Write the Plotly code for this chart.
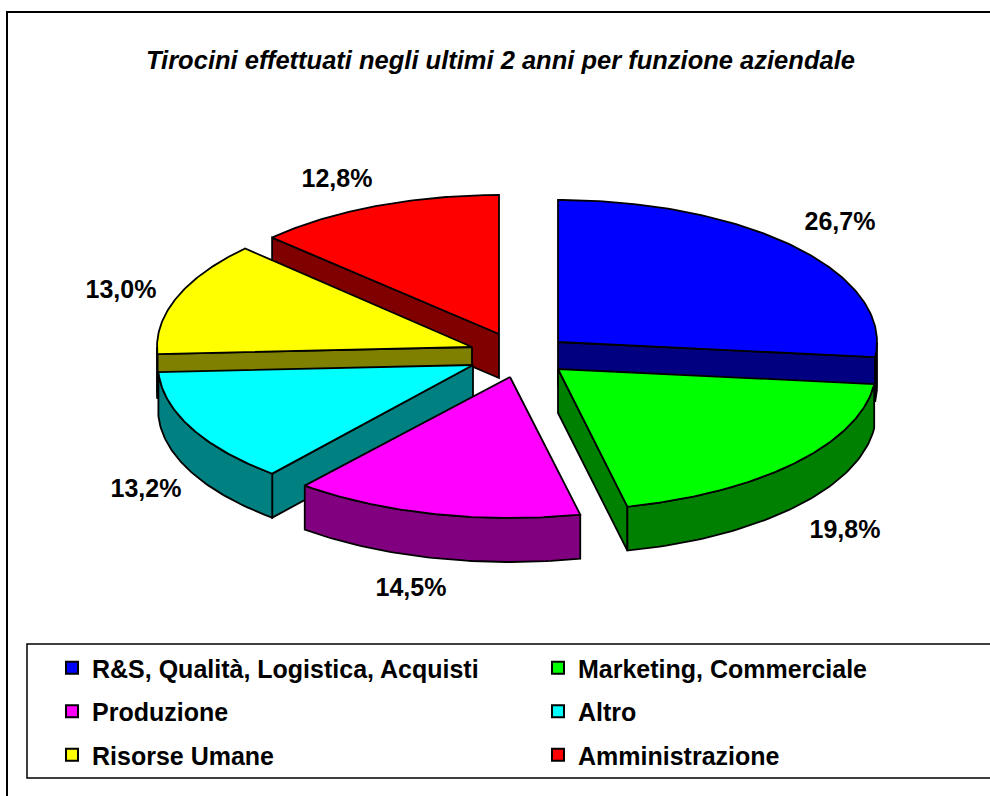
import numpy as np
import plotly.graph_objects as go

categories = ["R&S, Qualità, Logistica, Acquisti", "Marketing, Commerciale", "Produzione",
              "Altro", "Risorse Umane", "Amministrazione"]
shares = [26.7, 19.8, 14.5, 13.2, 13.0, 12.8]
top_colors = ["#0000FF", "#00FF00", "#FF00FF", "#00FFFF", "#FFFF00", "#FF0000"]
side_colors = ["#000080", "#008000", "#800080", "#008080", "#808000", "#800000"]
title_text = "Tirocini effettuati negli ultimi 2 anni per funzione aziendale"

# drawing geometry of the exploded 3D pie (paper pixels)
apex_x = [558, 558, 510, 473, 472, 499]
apex_y = [342, 369, 377, 365, 347, 334]
semi_a = [319, 318, 322, 315, 315, 315]
semi_b = [142, 141, 141, 141, 142, 139]
label_x = [840, 845, 411, 146, 121, 337]
label_y = [224, 532, 590, 491, 292, 181]
depth = 44
draw_order = [5, 0, 4, 3, 1, 2]
W, H = 990, 796
FONT = "Liberation Sans, Arial, sans-serif"

edges = np.concatenate([[0], np.cumsum(shares)]) / np.sum(shares) * 2 * np.pi


def rim(i, t):
    return apex_x[i] + semi_a[i] * np.sin(t), apex_y[i] - semi_b[i] * np.cos(t)


def poly(xs, ys, color):
    return go.Scatter(x=list(xs) + [xs[0]], y=list(ys) + [ys[0]], mode="lines", fill="toself",
                      fillcolor=color, line=dict(color="black", width=1.8), hoverinfo="skip",
                      showlegend=False)


fig = go.Figure()
for i in draw_order:
    t0, t1 = edges[i], edges[i + 1]
    ax, ay = apex_x[i], apex_y[i]
    # radial faces turned towards the viewer
    for t, visible in ((t0, np.sin(t0) < -1e-6), (t1, np.sin(t1) > 1e-6)):
        if visible:
            ex, ey = rim(i, t)
            fig.add_trace(poly([ax, ex, ex, ax], [ay, ey, ey + depth, ay + depth], side_colors[i]))
    # front rim
    lo, hi = max(t0, np.pi / 2), min(t1, 3 * np.pi / 2)
    if hi > lo:
        tt = np.linspace(lo, hi, 60)
        rx, ry = rim(i, tt)
        fig.add_trace(poly(np.r_[rx, rx[::-1]], np.r_[ry, ry[::-1] + depth], side_colors[i]))
    # top
    tt = np.linspace(t0, t1, 120)
    rx, ry = rim(i, tt)
    fig.add_trace(poly(np.r_[ax, rx], np.r_[ay, ry], top_colors[i]))

fig.add_trace(go.Scatter(x=label_x, y=label_y, mode="text",
                         text=[f"{v:.1f}%".replace(".", ",") for v in shares],
                         textposition="middle center", hoverinfo="skip", showlegend=False,
                         textfont=dict(family=FONT, size=25, color="black", weight="bold")))

for i, c in enumerate(categories):
    fig.add_trace(go.Scatter(x=[None], y=[None], mode="markers", name=c,
                             legend="legend" if i % 2 == 0 else "legend2",
                             legendgroup=c,
                             marker=dict(symbol="square", size=14, color=top_colors[i],
                                         line=dict(color="black", width=1.8))))

legend_style = dict(orientation="v", bgcolor="rgba(0,0,0,0)", borderwidth=0, tracegroupgap=8,
                    xanchor="left", yanchor="top", y=1 - 645 / H, itemsizing="constant",
                    font=dict(family=FONT, size=25, color="black", weight="bold"))

fig.update_layout(
    width=W, height=H, margin=dict(l=0, r=0, t=0, b=0), paper_bgcolor="white", plot_bgcolor="white",
    xaxis=dict(range=[0, W], visible=False, fixedrange=True),
    yaxis=dict(range=[H, 0], visible=False, fixedrange=True),
    legend=dict(x=52 / W, **legend_style),
    legend2=dict(x=538 / W, **legend_style),
    annotations=[dict(text=title_text, x=500, y=60, xref="x", yref="y", showarrow=False,
                      font=dict(family=FONT, size=25.5, color="black", weight="bold", style="italic"))],
    shapes=[
        dict(type="rect", xref="x", yref="y", x0=7, y0=12, x1=1000, y1=815,
             line=dict(color="black", width=2), layer="below"),
        dict(type="rect", xref="x", yref="y", x0=27, y0=644, x1=1000, y1=778,
             line=dict(color="black", width=1.5), layer="below"),
    ],
)
fig.write_html("out.html", config={"displayModeBar": False},
               post_script="document.body.style.margin='0';")
